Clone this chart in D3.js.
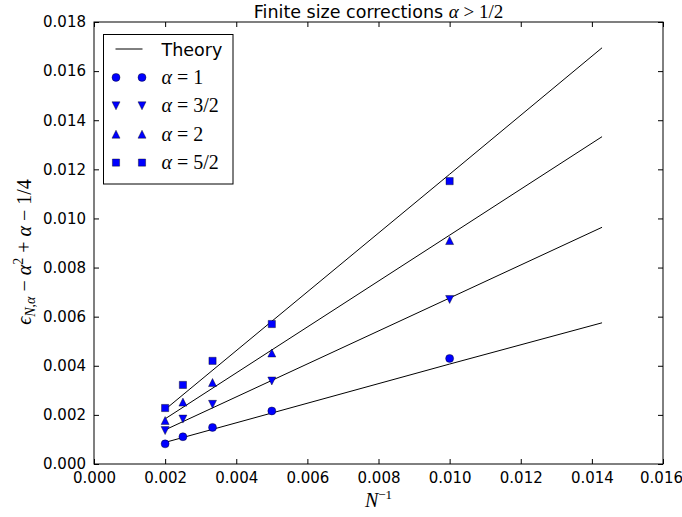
<!DOCTYPE html>
<html>
<head>
<meta charset="utf-8">
<script src="https://cdn.jsdelivr.net/npm/d3@7"></script>
<style>
    body { margin: 0; background: #fff; }
    svg { display: block; }
    .tick text { font-family: "DejaVu Sans", sans-serif; font-size: 15px; fill: #000; }
    .math { font-family: "Liberation Serif", serif; }
</style>
</head>
<body>
<script>
'use strict';

// inverse system size N^-1 for N = 500, 400, 300, 200, 100
const invN = [0.002, 0.0025, 0.003333, 0.005, 0.01];

// measured finite size corrections, one array per alpha
const alpha1 = [0.00082, 0.00111, 0.00149, 0.00216, 0.00430];
const alpha3half = [0.00136, 0.00183, 0.00243, 0.00338, 0.00670];
const alpha2 = [0.00177, 0.00252, 0.00332, 0.00452, 0.00910];
const alpha5half = [0.00228, 0.00322, 0.00420, 0.00570, 0.01152];

// theory lines, read at N^-1 = 0.002, 0.01, 1/70
const theoryX = [0.002, 0.01, 0.014286];
const theory1 = [0.00088, 0.00407, 0.00575];
const theory3half = [0.00139, 0.00676, 0.00964];
const theory2 = [0.00184, 0.00932, 0.01333];
const theory5half = [0.00222, 0.01180, 0.01695];

const xTicks = [0, 0.002, 0.004, 0.006, 0.008, 0.010, 0.012, 0.014, 0.016];
const yTicks = [0, 0.002, 0.004, 0.006, 0.008, 0.010, 0.012, 0.014, 0.016, 0.018];

const series = [
    { values: alpha1, theory: theory1, marker: 'circle', label: ['1'] },
    { values: alpha3half, theory: theory3half, marker: 'down', label: ['3/2'] },
    { values: alpha2, theory: theory2, marker: 'up', label: ['2'] },
    { values: alpha5half, theory: theory5half, marker: 'square', label: ['5/2'] }
];


function getPlotArea() {
    const plot = {
        svg: { width: 682, height: 517 },
        padding: { top: 22, right: 19, bottom: 53, left: 94 }
    };
    plot.range = {
        x: plot.svg.width - plot.padding.left - plot.padding.right,
        y: plot.svg.height - plot.padding.top - plot.padding.bottom
    };
    return plot;
}


function makeScales(plot) {
    return {
        x: d3.scaleLinear().domain([0, 0.016]).range([0, plot.range.x]),
        y: d3.scaleLinear().domain([0, 0.018]).range([plot.range.y, 0])
    };
}


// matplotlib-like marker shapes, centred on 0,0
function markerPath(kind) {
    const r = 4;
    if (kind === 'circle') {
        return d3.symbol().type(d3.symbolCircle).size(Math.PI * r * r)();
    }
    if (kind === 'down') {
        return 'M0,' + r + 'L' + (-r) + ',' + (-r) + 'L' + r + ',' + (-r) + 'Z';
    }
    if (kind === 'up') {
        return 'M0,' + (-r) + 'L' + (-r) + ',' + r + 'L' + r + ',' + r + 'Z';
    }
    const s = 3.6;
    return 'M' + (-s) + ',' + (-s) + 'H' + s + 'V' + s + 'H' + (-s) + 'Z';
}


function appendMarker(g, kind, x, y) {
    g.append('path')
        .attr('d', markerPath(kind))
        .attr('transform', 'translate(' + x + ',' + y + ')')
        .attr('fill', '#0000ff')
        .attr('stroke', '#000')
        .attr('stroke-width', 0.4);
}


function appendAxes(g, plot, scales) {
    const tickLen = 5;
    const bottom = d3.axisBottom(scales.x).tickValues(xTicks).tickFormat(d3.format('.3f'))
        .tickSizeInner(-tickLen).tickSizeOuter(0).tickPadding(8);
    const left = d3.axisLeft(scales.y).tickValues(yTicks).tickFormat(d3.format('.3f'))
        .tickSizeInner(-tickLen).tickSizeOuter(0).tickPadding(8);
    const top = d3.axisTop(scales.x).tickValues(xTicks).tickFormat('')
        .tickSizeInner(-tickLen).tickSizeOuter(0);
    const right = d3.axisRight(scales.y).tickValues(yTicks).tickFormat('')
        .tickSizeInner(-tickLen).tickSizeOuter(0);

    const xAxis = g.append('g').attr('transform', 'translate(0,' + plot.range.y + ')').call(bottom);
    g.append('g').call(left);
    g.append('g').call(top);
    g.append('g').attr('transform', 'translate(' + plot.range.x + ',0)').call(right);
    g.selectAll('.domain').remove();
    g.selectAll('.tick line').attr('stroke', '#000');
    g.selectAll('.tick text').attr('fill', '#000');
    // last label sits right at the window edge; nudge so it stays readable
    xAxis.selectAll('.tick text').filter((d) => d === 0.016).attr('dx', -2);

    g.append('rect')
        .attr('width', plot.range.x)
        .attr('height', plot.range.y)
        .attr('fill', 'none')
        .attr('stroke', '#000')
        .attr('stroke-width', 1);
}


function appendSeries(g, scales) {
    const line = d3.line()
        .x((d) => scales.x(d[0]))
        .y((d) => scales.y(d[1]));
    series.forEach((s) => {
        g.append('path')
            .attr('d', line(d3.zip(theoryX, s.theory)))
            .attr('fill', 'none')
            .attr('stroke', '#000')
            .attr('stroke-width', 1);
    });
    series.forEach((s) => {
        s.values.forEach((v, i) => appendMarker(g, s.marker, scales.x(invN[i]), scales.y(v)));
    });
}


// "α = value" as math text
function alphaText(sel, value) {
    sel.append('tspan').attr('font-style', 'italic').text('α');
    sel.append('tspan').text(' = ' + value);
}


function appendLegend(svg) {
    const legend = svg.append('g').attr('transform', 'translate(103.5,34.5)');
    legend.append('rect')
        .attr('width', 129.5)
        .attr('height', 149.5)
        .attr('fill', '#fff')
        .attr('stroke', '#000')
        .attr('stroke-width', 1);
    const rowY = (i) => 14.5 + i * 28.4;
    legend.append('line')
        .attr('x1', 12).attr('x2', 39)
        .attr('y1', rowY(0)).attr('y2', rowY(0))
        .attr('stroke', '#000');
    legend.append('text')
        .attr('x', 58).attr('y', rowY(0) + 6.5)
        .style('font-family', '"DejaVu Sans", sans-serif')
        .style('font-size', '17.5px')
        .text('Theory');
    series.forEach((s, i) => {
        const y = rowY(i + 1);
        appendMarker(legend, s.marker, 12.5, y);
        appendMarker(legend, s.marker, 38.5, y);
        const t = legend.append('text')
            .attr('class', 'math')
            .attr('x', 58).attr('y', y + 6.5)
            .style('font-size', '20px');
        alphaText(t, s.label[0]);
    });
}


function appendLabels(svg, plot) {
    const cx = plot.padding.left + plot.range.x / 2;
    const title = svg.append('text')
        .attr('x', cx).attr('y', 17.5)
        .attr('text-anchor', 'middle')
        .style('font-family', '"DejaVu Sans", sans-serif')
        .style('font-size', '17.5px');
    title.append('tspan').text('Finite size corrections ');
    title.append('tspan').attr('class', 'math').attr('font-style', 'italic').style('font-size', '19px').text('α');
    title.append('tspan').attr('class', 'math').style('font-size', '19px').text(' > 1/2');

    const xl = svg.append('text')
        .attr('class', 'math')
        .attr('x', cx).attr('y', 507)
        .attr('text-anchor', 'middle')
        .style('font-size', '20px');
    xl.append('tspan').attr('font-style', 'italic').text('N');
    xl.append('tspan').attr('dy', -8).style('font-size', '13px').text('−1');

    const cy = plot.padding.top + plot.range.y / 2 + 9;
    const yl = svg.append('text')
        .attr('class', 'math')
        .attr('transform', 'translate(31,' + cy + ') rotate(-90)')
        .attr('text-anchor', 'middle')
        .style('font-size', '20px');
    yl.append('tspan').attr('font-style', 'italic').text('ϵ');
    yl.append('tspan').attr('dy', 4).attr('font-style', 'italic').style('font-size', '14px').text('N,α');
    yl.append('tspan').attr('dy', -4).text(' − ');
    yl.append('tspan').attr('font-style', 'italic').text('α');
    yl.append('tspan').attr('dy', -8).style('font-size', '14px').text('2');
    yl.append('tspan').attr('dy', 8).text(' + ');
    yl.append('tspan').attr('font-style', 'italic').text('α');
    yl.append('tspan').text(' − 1/4');
}


function draw() {
    const plot = getPlotArea();
    const svg = d3.select('body').append('svg')
        .attr('width', plot.svg.width)
        .attr('height', plot.svg.height);
    const g = svg.append('g')
        .attr('transform', 'translate(' + plot.padding.left + ',' + plot.padding.top + ')');
    const scales = makeScales(plot);
    appendSeries(g, scales);
    appendAxes(g, plot, scales);
    appendLegend(svg);
    appendLabels(svg, plot);
}


window.onload = draw;
</script>
</body>
</html>
